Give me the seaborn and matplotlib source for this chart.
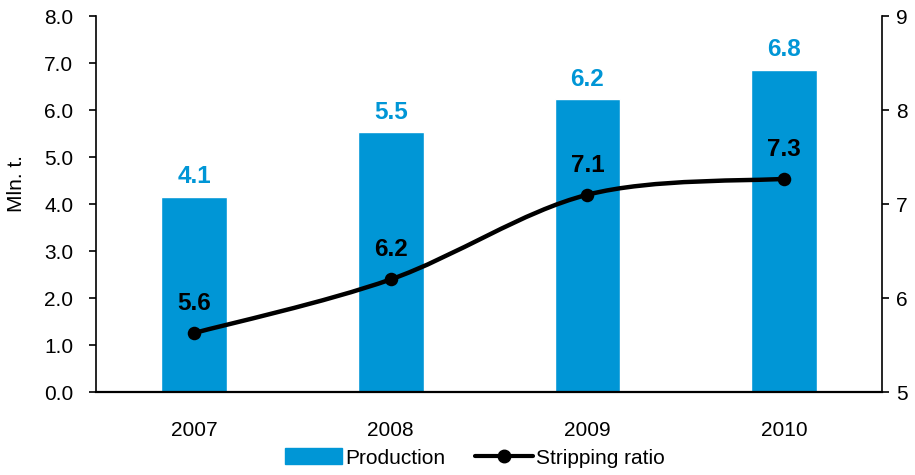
import numpy as np
import pandas as pd
import matplotlib
matplotlib.use("Agg")
import matplotlib.pyplot as plt
import seaborn as sns
from matplotlib.path import Path
from matplotlib.patches import PathPatch, Patch
from matplotlib.lines import Line2D

# Data
years = ["2007", "2008", "2009", "2010"]
production = [4.16, 5.53, 6.23, 6.86]
production_labels = ["4.1", "5.5", "6.2", "6.8"]
stripping = [5.63, 6.20, 7.10, 7.27]
stripping_labels = ["5.6", "6.2", "7.1", "7.3"]
left_ticks = [0, 1, 2, 3, 4, 5, 6, 7, 8]
right_ticks = [5, 6, 7, 8, 9]

blue = "#0096D6"

sns.set_theme(style="white")
plt.rcParams["font.family"] = ["Liberation Sans", "DejaVu Sans"]
plt.rcParams["text.color"] = "black"
plt.rcParams["xtick.color"] = "black"
plt.rcParams["ytick.color"] = "black"
plt.rcParams["axes.labelcolor"] = "black"

df = pd.DataFrame({"year": years, "production": production, "stripping": stripping})

fig = plt.figure(figsize=(9.15, 4.75), dpi=100)
ax = fig.add_axes([0.1046, 0.1741, 0.8597, 0.7922])

sns.barplot(data=df, x="year", y="production", color=blue, width=0.334,
            saturation=1, ax=ax, zorder=2)
ax.set_xlim(-0.5, 3.5)
ax.set_ylim(0, 8)
ax.set_yticks(left_ticks)
ax.set_yticklabels([f"{v:.1f}" for v in left_ticks])
ax.set_ylabel("Mln. t.", fontsize=15)
ax.yaxis.set_label_coords(-0.089, 0.555)
ax.set_xlabel("")
ax.tick_params(axis="y", length=5, width=1.2, direction="out",
               labelsize=15, pad=11, left=True)
ax.tick_params(axis="x", length=0, labelsize=15, pad=21)
for s in ["top", "right"]:
    ax.spines[s].set_visible(False)
for s in ["left", "bottom"]:
    ax.spines[s].set_color("black")
ax.spines["left"].set_linewidth(1.2)
ax.spines["bottom"].set_linewidth(1.6)

for i, v in enumerate(production):
    ax.annotate(production_labels[i], (i, v), xytext=(0, 6), textcoords="offset points",
                ha="center", va="bottom", color=blue, fontsize=17.5, fontweight="bold")

# Secondary axis: stripping ratio
ax2 = ax.twinx()
ax2.set_ylim(5, 9)
ax2.set_yticks(right_ticks)
ax2.tick_params(axis="y", length=5, width=1.2, direction="out",
                labelsize=15, pad=5, right=True)
for s in ["top", "left", "bottom"]:
    ax2.spines[s].set_visible(False)
ax2.spines["right"].set_color("black")
ax2.spines["right"].set_linewidth(1.2)
ax2.grid(False)

# smoothed line (Catmull-Rom -> cubic Bezier)
pts = np.column_stack([np.arange(len(stripping)), stripping]).astype(float)
verts = [tuple(pts[0])]
codes = [Path.MOVETO]
n = len(pts)
for i in range(n - 1):
    p0 = pts[max(i - 1, 0)]
    p1 = pts[i]
    p2 = pts[i + 1]
    p3 = pts[min(i + 2, n - 1)]
    c1 = p1 + (p2 - p0) / 6
    c2 = p2 - (p3 - p1) / 6
    verts += [tuple(c1), tuple(c2), tuple(p2)]
    codes += [Path.CURVE4] * 3
ax2.add_patch(PathPatch(Path(verts, codes), fill=False, edgecolor="black",
                        linewidth=3.2, zorder=3, capstyle="round"))
sns.scatterplot(x=np.arange(len(stripping)), y=stripping, ax=ax2, color="black",
                s=95, linewidth=0, zorder=4, legend=False)

for i, v in enumerate(stripping):
    ax2.annotate(stripping_labels[i], (i, v), xytext=(0, 13), textcoords="offset points",
                 ha="center", va="bottom", color="black", fontsize=17.5, fontweight="bold")

handles = [Patch(facecolor=blue, edgecolor=blue, label="Production"),
           Line2D([0], [0], color="black", lw=3, marker="o", markersize=9,
                  label="Stripping ratio")]
fig.legend(handles=handles, loc="center", bbox_to_anchor=(0.5186, 0.036),
           ncol=2, frameon=False, fontsize=15, handlelength=2.75,
           handletextpad=0.15, columnspacing=1.45, handleheight=0.8,
           borderpad=0, borderaxespad=0)

fig.savefig("out.png", dpi=100)
